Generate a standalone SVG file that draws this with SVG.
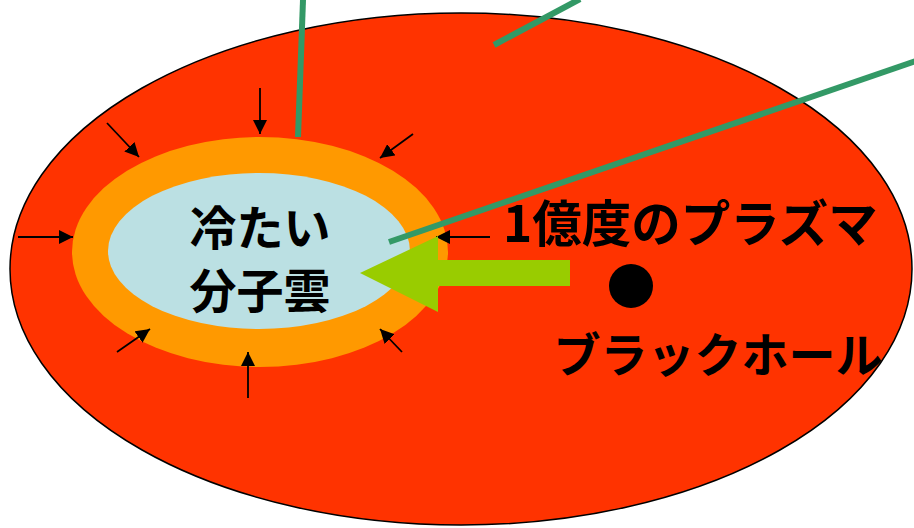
<svg xmlns="http://www.w3.org/2000/svg" width="914" height="528" viewBox="0 0 914 528">
<defs>
<style>
.t{font-family:"Noto Sans CJK JP","Noto Sans",sans-serif;font-weight:bold;fill:#000}
.ar{stroke:#000;stroke-width:1.8;fill:none;marker-end:url(#ah)}
.gl{stroke:#339966;stroke-width:6;fill:none}
</style>
<marker id="ah" viewBox="0 0 14 14" refX="14" refY="7" markerWidth="14" markerHeight="14" markerUnits="userSpaceOnUse" orient="auto">
<path d="M0,0 L14,7 L0,14 z" fill="#000"/>
</marker>
</defs>
<rect width="914" height="528" fill="#fff"/>
<g id="plasma">
<ellipse cx="461" cy="269" rx="451" ry="256" fill="#FF3300" stroke="#000" stroke-width="1.5"/>
</g>
<g id="shell">
<ellipse cx="260" cy="252" rx="188" ry="115" fill="#FF9900"/>
</g>
<g id="cloud">
<ellipse cx="259" cy="251" rx="151" ry="78" fill="#BBE0E3"/>
<text class="t" x="260" y="245" font-size="47" text-anchor="middle">冷たい</text>
<text class="t" x="260" y="308" font-size="47" text-anchor="middle">分子雲</text>
</g>
<g id="blackhole">
<circle cx="631" cy="286" r="22" fill="#000"/>
<text class="t" x="718" y="372" font-size="47" text-anchor="middle">ブラックホール</text>
</g>
<g id="plasma-label">
<text class="t" x="503" y="242" font-size="49.5">1億度のプラズマ</text>
</g>
<g id="connectors">
<line class="ar" x1="260" y1="88" x2="260" y2="134"/>
<line class="ar" x1="107" y1="123" x2="139" y2="157"/>
<line class="ar" x1="413" y1="134" x2="380" y2="158"/>
<line class="ar" x1="18" y1="237" x2="73" y2="237"/>
<line class="ar" x1="490" y1="237" x2="436" y2="237"/>
<line class="ar" x1="117" y1="352" x2="150" y2="329"/>
<line class="ar" x1="248" y1="398" x2="248" y2="352"/>
<line class="ar" x1="402" y1="352" x2="380" y2="329"/>
<line class="gl" x1="303" y1="0" x2="298" y2="137"/>
<line class="gl" x1="580" y1="-1" x2="494" y2="45"/>
<line class="gl" x1="916" y1="61" x2="389" y2="242"/>
<polygon points="360,273 438,236 438,260 570,260 570,286 438,286 438,312" fill="#99CC00"/>
</g>
</svg>
